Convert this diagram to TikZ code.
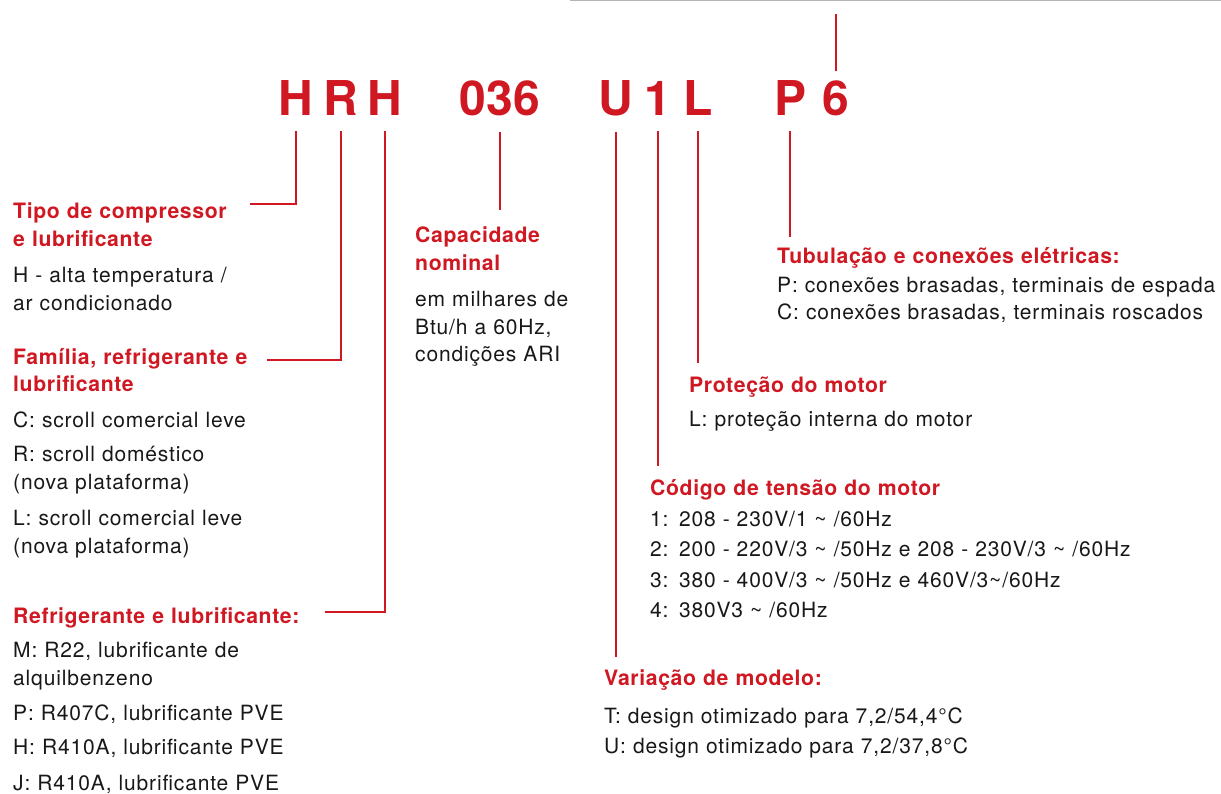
\documentclass[tikz,border=0pt]{standalone}
\usepackage{fontspec}
\usetikzlibrary{positioning}
\newfontfamily\codefont{TeX Gyre Heros}
\newfontfamily\headfont{TeX Gyre Heros}[LetterSpace=3]
\newfontfamily\descfont{TeX Gyre Heros}[LetterSpace=4]
\definecolor{codered}{RGB}{208,24,34}
\definecolor{ink}{RGB}{24,24,24}
\definecolor{rulegray}{RGB}{180,180,180}

\begin{document}
\begin{tikzpicture}[
        x=1pt, y=-1pt,
        code/.style={font=\codefont\bfseries\fontsize{48}{48}\selectfont, text=codered, anchor=base, inner xsep=0pt, inner ysep=15pt},
        head/.style={font=\headfont\bfseries\fontsize{21.2}{28}\selectfont, text=codered, anchor=base west, inner sep=0pt, text width=20cm, align=left},
        desc/.style={font=\descfont\fontsize{21}{27.5}\selectfont, text=ink, anchor=base west, inner sep=0pt, text width=20cm, align=left},
        link/.style={draw=codered, line width=2.5pt}
        ]
        \useasboundingbox (0,0) rectangle (1221,794);
        \draw[rulegray, line width=1.5pt] (570,0.75) -- (1221,0.75);

        % Code letters
        \node[code] (h1) at (296,116) {H};
        \node[code] (r) at (341,116) {R};
        \node[code] (h2) at (385,116) {H};
        \node[code] (cap) at (500,116) {036};
        \node[code] (u) at (616,116) {U};
        \node[code] (one) at (658,116) {1};
        \node[code] (l) at (698,116) {L};
        \node[code] (p) at (790,116) {P};
        \node[code] (six) at (836,116) {6};

        % Descriptions
        \node[head] (tipo) at (13,219) {Tipo de compressor\\e lubrificante};
        \node[desc] (tipotxt) [below=64pt of tipo.base west, anchor=base west] {H - alta temperatura /\\ar condicionado};

        \node[head] (familia) at (13,364) {Família, refrigerante e\\lubrificante};
        \node[desc] (familiatxt) [below=63pt of familia.base west, anchor=base west] {C: scroll comercial leve\\[7pt]R: scroll doméstico\\(nova plataforma)\\[9pt]L: scroll comercial leve\\(nova plataforma)};

        \node[head] (refrig) at (13,623) {Refrigerante e lubrificante:};
        \node[desc] (refrigtxt) [below=34pt of refrig.base west, anchor=base west] {M: R22, lubrificante de\\[1pt]alquilbenzeno\\[7.5pt]P: R407C, lubrificante PVE\\[6.5pt]H: R410A, lubrificante PVE\\[8.5pt]J: R410A, lubrificante PVE};

        \node[head] (capacidade) at (415,243) {Capacidade\\nominal};
        \node[desc] (capacidadetxt) [below=64pt of capacidade.base west, anchor=base west] {em milhares de\\Btu/h a 60Hz,\\condições ARI};

        \node[head] (tubulacao) at (777,264) {Tubulação e conexões elétricas:};
        \node[desc] (tubulacaotxt) [below=29pt of tubulacao.base west, anchor=base west] {P: conexões brasadas, terminais de espada\\[-0.5pt]C: conexões brasadas, terminais roscados};

        \node[head] (protecao) at (689,392) {Proteção do motor};
        \node[desc] (protecaotxt) [below=34pt of protecao.base west, anchor=base west] {L: proteção interna do motor};

        \node[head] (codigo) at (650,495) {Código de tensão do motor};
        \node[desc] (codigotxt) [below=31pt of codigo.base west, anchor=base west] {1: 208 - 230V/1 \textasciitilde{} /60Hz\\[3pt]2: 200 - 220V/3 \textasciitilde{} /50Hz e 208 - 230V/3 \textasciitilde{} /60Hz\\[3pt]3: 380 - 400V/3 \textasciitilde{} /50Hz e 460V/3\textasciitilde/60Hz\\[3pt]4: 380V3 \textasciitilde{} /60Hz};

        \node[head] (variacao) at (604,685) {Variação de modelo:};
        \node[desc] (variacaotxt) [below=38pt of variacao.base west, anchor=base west] {T: design otimizado para 7,2/54,4°C\\[2.5pt]U: design otimizado para 7,2/37,8°C};

        % Connectors
        \coordinate (tipoend) at (250,204);
        \coordinate (familiaend) at (267,360);
        \coordinate (refrigend) at (325,612);
        \coordinate (capend) at (500,210);
        \coordinate (variacaoend) at (616,657);
        \coordinate (codigoend) at (658,466);
        \coordinate (protecaoend) at (698,363);
        \coordinate (tubulacaoend) at (790,237);
        \coordinate (topend) at (836,14);

        \draw[link] (h1.south) |- (tipoend);
        \draw[link] (r.south) |- (familiaend);
        \draw[link] (h2.south) |- (refrigend);
        \draw[link] (cap.south) -- (capend);
        \draw[link] (u.south) -- (variacaoend);
        \draw[link] (one.south) -- (codigoend);
        \draw[link] (l.south) -- (protecaoend);
        \draw[link] (p.south) -- (tubulacaoend);
        \draw[link] ([yshift=-5pt]six.north) -- (topend);
    \end{tikzpicture}
\end{document}
